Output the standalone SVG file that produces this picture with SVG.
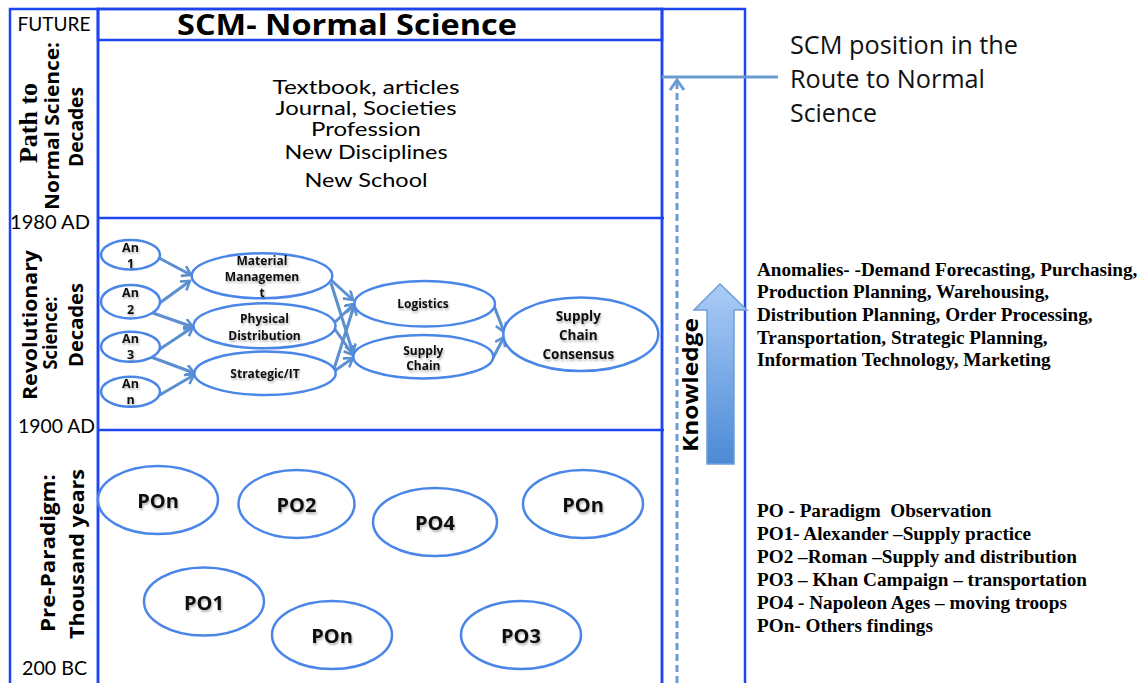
<svg xmlns="http://www.w3.org/2000/svg" width="1146" height="683" viewBox="0 0 1146 683">
<style>
.frame{fill:none;stroke:#1d45f2;stroke-width:2.5}
.node{fill:#fff;stroke:#4a86e8;stroke-width:2.5}
.conn{stroke:#5b8fcf;stroke-width:3;fill:none}
.lbl{font-family:Lato,"Open Sans",sans-serif;fill:#000}
.bl{font-family:"Open Sans",sans-serif;font-weight:bold;fill:#000}
.mid{text-anchor:middle}
.nt{font-family:"Open Sans",sans-serif;font-weight:bold;fill:#111;text-anchor:middle;filter:url(#sh)}
.tr{font-family:"Liberation Serif","Times New Roman",serif;font-weight:bold;font-size:19.2px;fill:#000}
</style>
<defs>
<marker id="ah" markerUnits="userSpaceOnUse" markerWidth="14" markerHeight="14" refX="10" refY="6" orient="auto">
<path d="M1.5,0.5 L10,6 L1.5,11.5" fill="none" stroke="#5b8fcf" stroke-width="2.6"/>
</marker>
<linearGradient id="kg" x1="0" y1="0" x2="0" y2="1">
<stop offset="0" stop-color="#acccf7"/>
<stop offset="1" stop-color="#4a8ad6"/>
</linearGradient>
<filter id="sh" x="-20%" y="-40%" width="140%" height="180%">
<feDropShadow dx="1" dy="2" stdDeviation="1.1" flood-color="#000" flood-opacity="0.3"/>
</filter>
</defs>
<rect width="1146" height="683" fill="#fff"/>

<g id="frames">
<rect class="frame" x="10" y="9" width="88" height="690"/>
<rect class="frame" x="98" y="9" width="564" height="690"/>
<rect class="frame" x="98" y="9" width="564" height="31"/>
<line class="frame" x1="98" y1="218" x2="664" y2="218"/>
<line class="frame" x1="98" y1="430" x2="664" y2="430"/>
<rect class="frame" x="662" y="9" width="83" height="690"/>
</g>

<g id="left-labels">
<text class="lbl mid" x="54" y="31" font-size="19" textLength="73" lengthAdjust="spacingAndGlyphs">FUTURE</text>
<text transform="translate(37,123) rotate(-90)" text-anchor="middle" font-family="Liberation Serif,serif" font-weight="bold" font-size="26">Path to</text>
<text class="bl mid" transform="translate(59,126) rotate(-90)" font-size="20" textLength="168" lengthAdjust="spacingAndGlyphs">Normal Science:</text>
<text class="bl mid" transform="translate(83,127) rotate(-90)" font-size="20" textLength="80" lengthAdjust="spacingAndGlyphs">Decades</text>
<text class="lbl mid" x="50" y="229" font-size="19" textLength="80" lengthAdjust="spacingAndGlyphs">1980 AD</text>
<text class="bl mid" transform="translate(37,325) rotate(-90)" font-size="20" textLength="150" lengthAdjust="spacingAndGlyphs">Revolutionary</text>
<text class="bl mid" transform="translate(57,333) rotate(-90)" font-size="20" textLength="73" lengthAdjust="spacingAndGlyphs">Science:</text>
<text class="bl mid" transform="translate(83,325) rotate(-90)" font-size="20" textLength="84" lengthAdjust="spacingAndGlyphs">Decades</text>
<text class="lbl mid" x="56.5" y="433" font-size="19" textLength="77" lengthAdjust="spacingAndGlyphs">1900 AD</text>
<text class="bl mid" transform="translate(55,553) rotate(-90)" font-size="20" textLength="158" lengthAdjust="spacingAndGlyphs">Pre-Paradigm:</text>
<text class="bl mid" transform="translate(84,554) rotate(-90)" font-size="20" textLength="170" lengthAdjust="spacingAndGlyphs">Thousand years</text>
<text class="lbl mid" x="54.5" y="675" font-size="19" textLength="65" lengthAdjust="spacingAndGlyphs">200 BC</text>
</g>

<g id="title">
<text class="bl mid" x="347" y="35" font-size="29" textLength="340" lengthAdjust="spacingAndGlyphs">SCM- Normal Science</text>
</g>

<g id="path-to-normal-science">
<text class="lbl mid" x="366" y="94" font-size="19.5" textLength="187" lengthAdjust="spacingAndGlyphs">Textbook, articles</text>
<text class="lbl mid" x="366" y="115" font-size="19.5" textLength="181" lengthAdjust="spacingAndGlyphs">Journal, Societies</text>
<text class="lbl mid" x="366" y="136" font-size="19.5" textLength="110" lengthAdjust="spacingAndGlyphs">Profession</text>
<text class="lbl mid" x="366" y="159" font-size="19.5" textLength="163" lengthAdjust="spacingAndGlyphs">New Disciplines</text>
<text class="lbl mid" x="366" y="187" font-size="19.5" textLength="123" lengthAdjust="spacingAndGlyphs">New School</text>
</g>

<g id="connectors">
<line class="conn" x1="159" y1="258" x2="191" y2="275" marker-end="url(#ah)"/>
<line class="conn" x1="150" y1="310" x2="190" y2="281" marker-end="url(#ah)"/>
<line class="conn" x1="150" y1="312" x2="193" y2="327" marker-end="url(#ah)"/>
<line class="conn" x1="151" y1="355" x2="193" y2="327" marker-end="url(#ah)"/>
<line class="conn" x1="151" y1="357" x2="194" y2="373" marker-end="url(#ah)"/>
<line class="conn" x1="146" y1="403" x2="194" y2="375" marker-end="url(#ah)"/>
<line class="conn" x1="331" y1="280" x2="353" y2="300" marker-end="url(#ah)"/>
<line class="conn" x1="331" y1="283" x2="353" y2="353" marker-end="url(#ah)"/>
<line class="conn" x1="332" y1="325" x2="354" y2="304" marker-end="url(#ah)"/>
<line class="conn" x1="332" y1="325" x2="353" y2="355" marker-end="url(#ah)"/>
<line class="conn" x1="333" y1="372" x2="354" y2="306" marker-end="url(#ah)"/>
<line class="conn" x1="333" y1="372" x2="353" y2="358" marker-end="url(#ah)"/>
<line class="conn" x1="493" y1="303" x2="504" y2="332" marker-end="url(#ah)"/>
<line class="conn" x1="493" y1="358" x2="504" y2="337" marker-end="url(#ah)"/>
</g>

<g id="an1"><ellipse class="node" cx="130.5" cy="254.7" rx="29.5" ry="14.7"/>
<text class="nt" font-size="12.5"><tspan x="130.5" y="251.5">An</tspan><tspan x="130.5" y="267.5">1</tspan></text></g>
<g id="an2"><ellipse class="node" cx="130.5" cy="301.7" rx="29.5" ry="16.7"/>
<text class="nt" font-size="12.5"><tspan x="130.5" y="296.5">An</tspan><tspan x="130.5" y="313.5">2</tspan></text></g>
<g id="an3"><ellipse class="node" cx="130.5" cy="346.7" rx="29.5" ry="15"/>
<text class="nt" font-size="12.5"><tspan x="130.5" y="343">An</tspan><tspan x="130.5" y="359">3</tspan></text></g>
<g id="ann"><ellipse class="node" cx="130.5" cy="391.7" rx="29.5" ry="15"/>
<text class="nt" font-size="12.5"><tspan x="130.5" y="388">An</tspan><tspan x="130.5" y="404">n</tspan></text></g>

<g id="material"><ellipse class="node" cx="262" cy="275.8" rx="70.3" ry="22.5"/>
<text class="nt" font-size="12"><tspan x="262" y="265">Material</tspan><tspan x="262" y="281">Managemen</tspan><tspan x="262" y="296.7">t</tspan></text></g>
<g id="physical"><ellipse class="node" cx="264.5" cy="325.8" rx="71" ry="22.5"/>
<text class="nt" font-size="12"><tspan x="264.5" y="323.3">Physical</tspan><tspan x="264.5" y="340">Distribution</tspan></text></g>
<g id="strategic"><ellipse class="node" cx="265" cy="373.3" rx="70.7" ry="21.7"/>
<text class="nt" font-size="12" x="265" y="378.3">Strategic/IT</text></g>
<g id="logistics"><ellipse class="node" cx="424.7" cy="303.8" rx="70.3" ry="22.8"/>
<text class="nt" font-size="12" x="423" y="308.3">Logistics</text></g>
<g id="supply-chain"><ellipse class="node" cx="423.3" cy="356.7" rx="70" ry="21.7"/>
<text class="nt" font-size="12"><tspan x="423.3" y="355">Supply</tspan><tspan x="423.3" y="370">Chain</tspan></text></g>
<g id="consensus"><ellipse class="node" cx="580.8" cy="334.3" rx="77.5" ry="36.7"/>
<text class="nt" font-size="13.5"><tspan x="578.3" y="321">Supply</tspan><tspan x="578.3" y="340">Chain</tspan><tspan x="578.3" y="359.3">Consensus</tspan></text></g>

<g id="pon-a"><ellipse class="node" cx="158" cy="500" rx="60" ry="34"/><text class="nt" font-size="20" x="158" y="508">POn</text></g>
<g id="po2"><ellipse class="node" cx="296.5" cy="504" rx="58" ry="34"/><text class="nt" font-size="20" x="296.5" y="512">PO2</text></g>
<g id="po4"><ellipse class="node" cx="435" cy="522" rx="62" ry="34"/><text class="nt" font-size="20" x="435" y="530">PO4</text></g>
<g id="pon-b"><ellipse class="node" cx="583" cy="504" rx="60" ry="34"/><text class="nt" font-size="20" x="583" y="512">POn</text></g>
<g id="po1"><ellipse class="node" cx="204" cy="601.5" rx="60" ry="34"/><text class="nt" font-size="20" x="204" y="609.5">PO1</text></g>
<g id="pon-c"><ellipse class="node" cx="332" cy="635" rx="60" ry="34"/><text class="nt" font-size="20" x="332" y="643">POn</text></g>
<g id="po3"><ellipse class="node" cx="521" cy="635" rx="60" ry="34"/><text class="nt" font-size="20" x="521" y="643">PO3</text></g>

<g id="knowledge">
<line x1="662" y1="77" x2="778" y2="77" stroke="#6a9bd1" stroke-width="3"/>
<line x1="677" y1="683" x2="677" y2="82" stroke="#6a9bd1" stroke-width="3" stroke-dasharray="7 4"/>
<polyline points="670,90 677,80 684,90" fill="none" stroke="#6a9bd1" stroke-width="3"/>
<path d="M707,464 L707,310 L694,310 L720,284 L747,310 L734,310 L734,464 Z" fill="url(#kg)" stroke="#6f9fd8" stroke-width="1.5"/>
<text class="bl mid" transform="translate(698,385) rotate(-90)" font-size="22" textLength="134" lengthAdjust="spacingAndGlyphs">Knowledge</text>
</g>

<g id="scm-position">
<text font-family="'Open Sans',sans-serif" font-size="25" fill="#111" x="790" y="54" textLength="228" lengthAdjust="spacingAndGlyphs">SCM position in the</text>
<text font-family="'Open Sans',sans-serif" font-size="25" fill="#111" x="790" y="88" textLength="195" lengthAdjust="spacingAndGlyphs">Route to Normal</text>
<text font-family="'Open Sans',sans-serif" font-size="25" fill="#111" x="790" y="122" textLength="87" lengthAdjust="spacingAndGlyphs">Science</text>
</g>

<g id="anomalies">
<text class="tr" x="757" y="276">Anomalies- -Demand Forecasting, Purchasing,</text>
<text class="tr" x="757" y="298">Production Planning, Warehousing,</text>
<text class="tr" x="757" y="321">Distribution Planning, Order Processing,</text>
<text class="tr" x="757" y="344">Transportation, Strategic Planning,</text>
<text class="tr" x="757" y="366">Information Technology, Marketing</text>
</g>

<g id="legend">
<text class="tr" x="757" y="517" xml:space="preserve">PO - Paradigm  Observation</text>
<text class="tr" x="757" y="540">PO1- Alexander –Supply practice</text>
<text class="tr" x="757" y="563">PO2 –Roman –Supply and distribution</text>
<text class="tr" x="757" y="586">PO3 – Khan Campaign – transportation</text>
<text class="tr" x="757" y="609">PO4 - Napoleon Ages – moving troops</text>
<text class="tr" x="757" y="632">POn- Others findings</text>
</g>
</svg>
